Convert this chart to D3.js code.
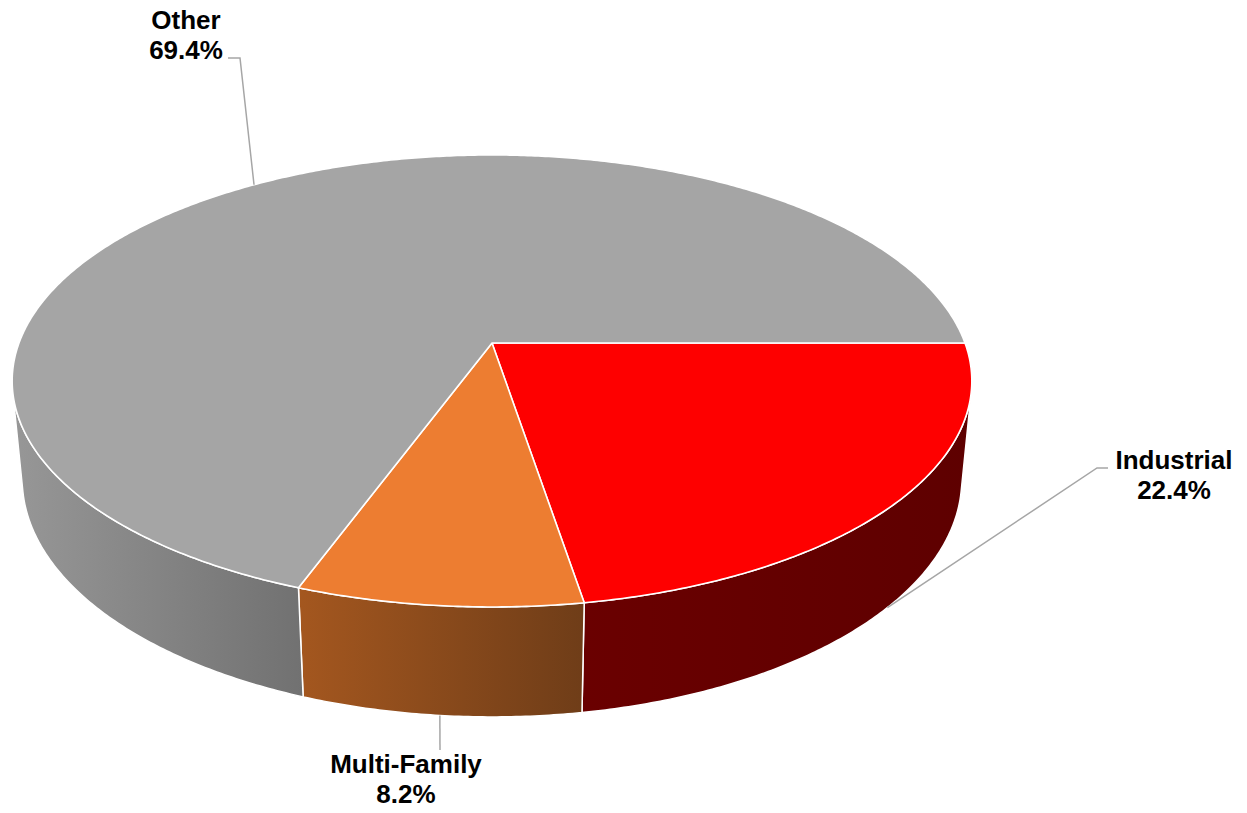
<!DOCTYPE html>
<html>
<head>
<meta charset="utf-8">
<script src="https://cdn.jsdelivr.net/npm/d3@7"></script>
<style>
  html, body { margin: 0; padding: 0; background: #fff; }
  svg { display: block; }
  text { font-family: "Liberation Sans", Arial, sans-serif; font-weight: bold; }
</style>
</head>
<body>
<svg id="chart" width="1247" height="813"></svg>
<script>
// ---- data ----
const categories = ["Industrial", "Multi-Family", "Other"];
const values = [22.4, 8.2, 69.4];
const topColors = ["#fe0000", "#ed7d31", "#a5a5a5"];
const sideColorsLeft = ["#6a0000", "#a4571f", "#979797"];
const sideColorsRight = ["#5e0000", "#6f3d18", "#717171"];
const labelText = ["Industrial\n22.4%", "Multi-Family\n8.2%", "Other\n69.4%"];

// ---- perspective camera model ----
const cx = 492, cy = 343;
const sinP = 0.4643, cosP = Math.sqrt(1 - sinP * sinP);
const D = 5.272, F = 2493.7, H = 0.237;

function project(theta, y) {
  const X = Math.cos(theta), Z = Math.sin(theta);
  const depth = y * sinP - Z * cosP + D;
  return [cx + F * X / depth, cy + F * (y * cosP + Z * sinP) / depth];
}

const svg = d3.select("#chart");
const defs = svg.append("defs");

const pie = d3.pie().sort(null).value(d => d)
  .startAngle(Math.PI / 2).endAngle(Math.PI / 2 + 2 * Math.PI);
const arcs = pie(values).map((a, i) => ({
  i, t0: a.startAngle - Math.PI / 2, t1: a.endAngle - Math.PI / 2
}));

function samples(t0, t1) {
  const n = Math.max(2, Math.ceil(Math.abs(t1 - t0) / (Math.PI / 360)));
  return d3.range(n + 1).map(k => t0 + (t1 - t0) * k / n);
}

const line = d3.line();
const tMin = Math.asin(1 / (D * cosP)), tMax = Math.PI - tMin;

// ---- side faces ----
const sideG = svg.append("g");
arcs.forEach(a => {
  const s = Math.max(a.t0, tMin), e = Math.min(a.t1, tMax);
  if (e <= s) return;
  const ts = samples(s, e);
  const topPts = ts.map(t => project(t, 0));
  const botPts = ts.slice().reverse().map(t => project(t, H));
  const pts = topPts.concat(botPts);
  const xs = pts.map(p => p[0]);
  const gid = "side" + a.i;
  const g = defs.append("linearGradient").attr("id", gid)
    .attr("gradientUnits", "userSpaceOnUse")
    .attr("x1", d3.min(xs)).attr("x2", d3.max(xs)).attr("y1", 0).attr("y2", 0);
  g.append("stop").attr("offset", "0").attr("stop-color", sideColorsLeft[a.i]);
  g.append("stop").attr("offset", "1").attr("stop-color", sideColorsRight[a.i]);
  sideG.append("path")
    .attr("d", line(pts) + "Z")
    .attr("fill", `url(#${gid})`)
    .attr("stroke", "#fff").attr("stroke-width", 1.5).attr("stroke-linejoin", "round");
});

// ---- top faces ----
const topG = svg.append("g");
arcs.forEach(a => {
  const pts = [[cx, cy]].concat(samples(a.t0, a.t1).map(t => project(t, 0)));
  topG.append("path")
    .attr("d", line(pts) + "Z")
    .attr("fill", topColors[a.i])
    .attr("stroke", "#fff").attr("stroke-width", 1.6).attr("stroke-linejoin", "round");
});

// ---- labels & leader lines ----
const labelPos = [[1174, 469], [406, 773], [186, 29]];
const leaderStart = [[[1108, 468], [1097, 468]], [[440, 750]], [[228, 58], [240, 58]]];
const leaderLevel = [H, H, 0];
const lblG = svg.append("g");
arcs.forEach(a => {
  const mid = (a.t0 + a.t1) / 2;
  const end = project(mid, leaderLevel[a.i]);
  lblG.append("path")
    .attr("d", line(leaderStart[a.i].concat([end])))
    .attr("fill", "none").attr("stroke", "#a6a6a6").attr("stroke-width", 1.5);
  const t = lblG.append("text")
    .attr("x", labelPos[a.i][0]).attr("y", labelPos[a.i][1])
    .attr("text-anchor", "middle").attr("font-size", 26).attr("fill", "#000");
  labelText[a.i].split("\n").forEach((s, k) => {
    t.append("tspan").attr("x", labelPos[a.i][0]).attr("y", labelPos[a.i][1] + k * 30).text(s);
  });
});
</script>
</body>
</html>
